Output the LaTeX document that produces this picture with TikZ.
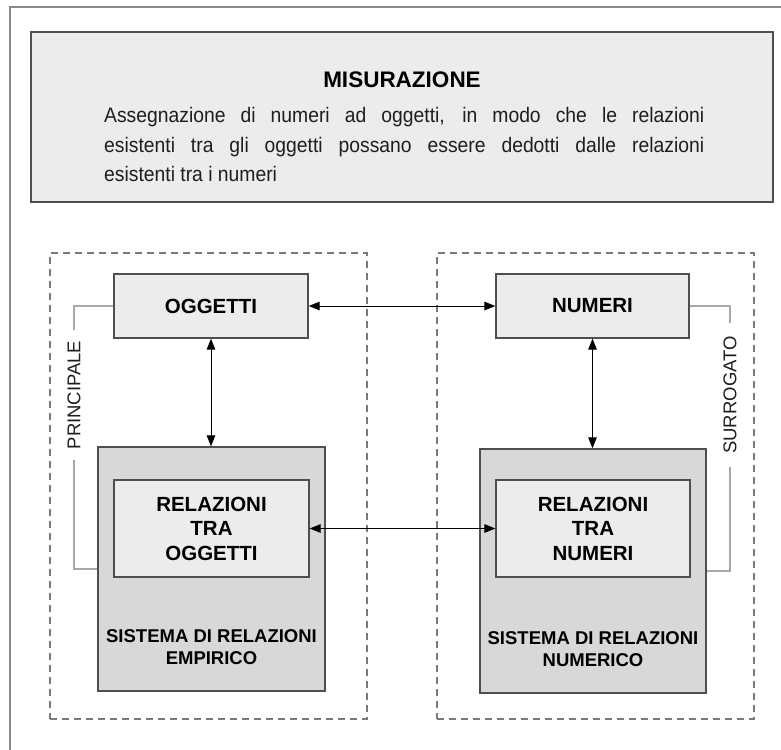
\documentclass[tikz,border=0pt]{standalone}
\usepackage{fontspec}
\setmainfont{Liberation Sans}
\newfontfamily\bodyfont[FakeStretch=0.92]{Liberation Sans}
\usetikzlibrary{arrows.meta}
\definecolor{boxfill}{HTML}{ECECEC}
\definecolor{shadefill}{HTML}{D8D8D8}
\definecolor{edgec}{HTML}{4F4F4F}
\definecolor{dashc}{HTML}{7A7A7A}
\definecolor{connc}{HTML}{A8A8A8}
\definecolor{framec}{HTML}{8A8A8A}
\definecolor{textc}{HTML}{1E1E1E}
\begin{document}
\begin{tikzpicture}[x=1pt,y=-1pt,
  lightbox/.style={draw=edgec, fill=boxfill, line width=1.2pt, inner sep=0pt},
  shadedbox/.style={draw=edgec, fill=shadefill, line width=1.3pt, inner sep=0pt},
  grp/.style={draw=dashc, line width=1.5pt, dash pattern=on 7pt off 5pt, inner sep=0pt},
  dblarrow/.style={line width=1pt, {Triangle[length=11pt,width=8.5pt]}-{Triangle[length=11pt,width=8.5pt]}},
  sideline/.style={draw=connc, line width=1.2pt},
  lbl/.style={font=\bfseries\fontsize{20.5}{24.5}\selectfont, align=center, text=black},
  syslbl/.style={font=\bfseries\fontsize{18.5}{21.5}\selectfont, align=center, text=black},
  sidelbl/.style={rotate=90, font=\fontsize{18.5}{18.5}\selectfont, text=textc},
  bodytxt/.style={anchor=base west, inner sep=0pt, font=\bodyfont\fontsize{21}{29.5}\selectfont, text=textc}
]
\useasboundingbox (0,0) rectangle (781,749);
\fill[white] (0,0) rectangle (781,749);
% outer frame (continues beyond the picture)
\draw[framec, line width=2pt] (10,800) -- (10,7) -- (800,7);

% definition box
\node[draw=edgec, fill=boxfill, line width=1.4pt, minimum width=742pt, minimum height=170pt, inner sep=0pt] (defbox) at (402,117) {};
\node[font=\bfseries\fontsize{22.5}{22.5}\selectfont, anchor=base, text=black] (title) at (402,88) {MISURAZIONE};
\node[bodytxt] (def1) at (104,122) {\makebox[600pt][s]{Assegnazione di numeri ad oggetti, in modo che le relazioni}};
\node[bodytxt] (def2) at (104,152) {\makebox[600pt][s]{esistenti tra gli oggetti possano essere dedotti dalle relazioni}};
\node[bodytxt] (def3) at (104,181) {esistenti tra i numeri};

% dashed groups
\node[grp, minimum width=317pt, minimum height=466pt] (grpL) at (208.5,486) {};
\node[grp, minimum width=317pt, minimum height=466pt] (grpR) at (595.5,486) {};

% top boxes
\node[lightbox, minimum width=194pt, minimum height=64pt, lbl] (ogg) at (211,306) {OGGETTI};
\node[lightbox, minimum width=193pt, minimum height=64pt, lbl] (num) at (592.5,306) {NUMERI};

% systems
\node[shadedbox, minimum width=227pt, minimum height=244pt] (sysE) at (211.5,569) {};
\node[shadedbox, minimum width=226pt, minimum height=244pt] (sysN) at (593,571) {};
\node[lightbox, minimum width=195pt, minimum height=97pt, lbl] (relO) at (211.5,528.5) {RELAZIONI\\TRA\\OGGETTI};
\node[lightbox, minimum width=194pt, minimum height=97pt, lbl] (relN) at (593,528.5) {RELAZIONI\\TRA\\NUMERI};
\node[syslbl] (sysEl) at (211.5,647) {SISTEMA DI RELAZIONI\\EMPIRICO};
\node[syslbl] (sysNl) at (593,649) {SISTEMA DI RELAZIONI\\NUMERICO};

% arrows
\draw[dblarrow] (ogg.east) -- (num.west);
\draw[dblarrow] (ogg.south) -- (ogg.south |- sysE.north);
\draw[dblarrow] (num.south) -- (num.south |- sysN.north);
\draw[dblarrow] (relO.east) -- (relN.west);

% side labels
\node[sidelbl, inner sep=10pt] (princ) at (74,395) {PRINCIPALE};
\node[sidelbl, inner sep=13pt] (surr) at (730,395) {SURROGATO};
\draw[sideline] (ogg.west) -| (princ.east);
\draw[sideline] (princ.west) |- (sysE.west);
\draw[sideline] (num.east) -| (surr.east);
\draw[sideline] (surr.west) |- (sysN.east);
\end{tikzpicture}
\end{document}
